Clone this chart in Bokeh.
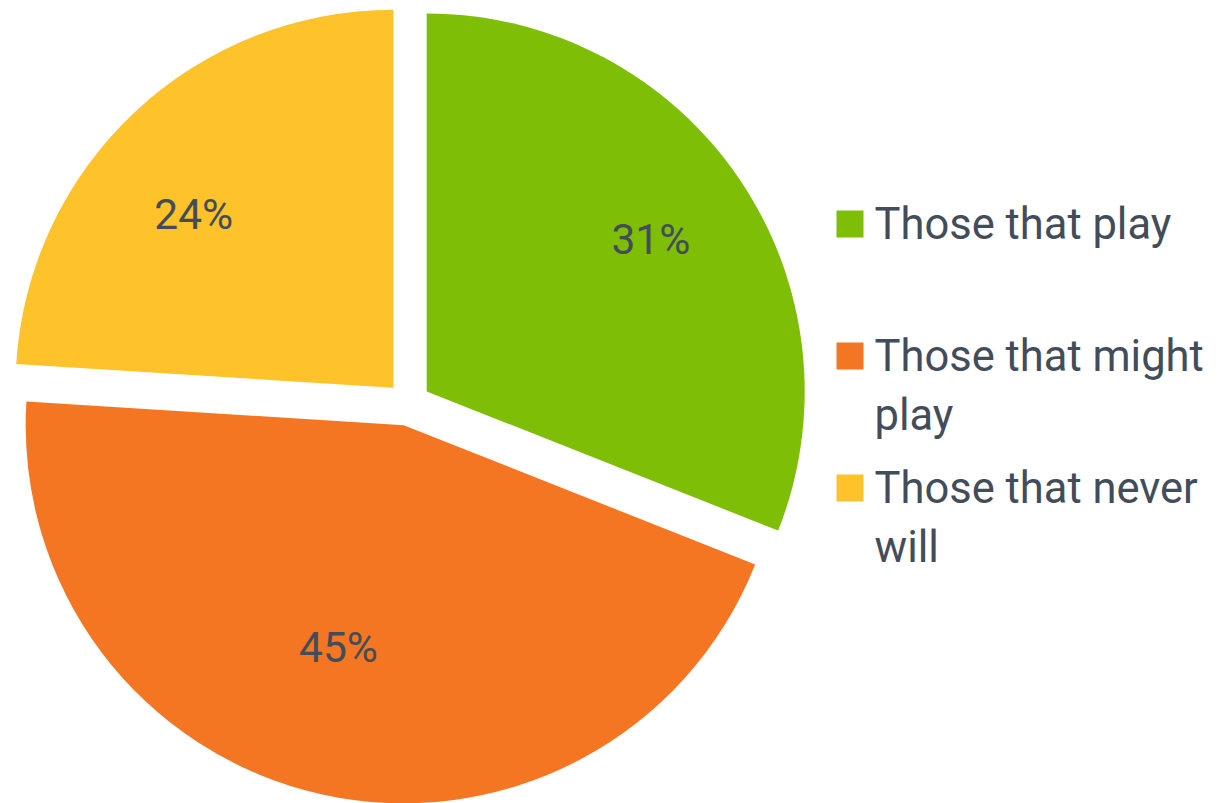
import math
import textwrap
from bokeh.plotting import figure
from bokeh.models import Range1d, ColumnDataSource
from bokeh.core.properties import value
from bokeh.embed import file_html
from bokeh.resources import INLINE

# ---- data ----
categories = ["Those that play", "Those that might play", "Those that never will"]
shares = [31, 45, 24]
labels = ["31%", "45%", "24%"]
colors = ["#7fbe06", "#f47522", "#fec22a"]

# ---- style / layout ----
W, H = 1226, 803
CX, CY = 408.0, H - 403.3      # pie centre (data units == pixels)
R = 378.0                       # radius
EXPLODE = 22.0                  # explosion distance
label_r = [0.717, 0.613, 0.70]  # label distance (fraction of radius)
label_dtheta = [0.0, 3.75, -5.8]
TEXT_COLOR = "#434d59"
FONT = "Roboto"
FS_LABEL = "42.5px"
FS_LEGEND = "43.5px"

p = figure(width=W, height=H, output_backend="svg", toolbar_location=None,
           x_range=Range1d(0, W), y_range=Range1d(0, H),
           x_axis_location=None, y_axis_location=None, min_border=0)
p.outline_line_color = None
p.grid.visible = False
p.background_fill_color = "white"
p.border_fill_color = "white"

total = float(sum(shares))
xs, ys, starts, ends, lx, ly = [], [], [], [], [], []
cum = 0.0
for i, s in enumerate(shares):
    t0 = cum / total * 360.0
    t1 = (cum + s) / total * 360.0
    mid = (t0 + t1) / 2.0
    cum += s
    mr = math.radians(mid)
    ox = CX + EXPLODE * math.sin(mr)
    oy = CY + EXPLODE * math.cos(mr)
    xs.append(ox)
    ys.append(oy)
    starts.append(90.0 - t0)
    ends.append(90.0 - t1)
    lr = math.radians(mid + label_dtheta[i])
    lx.append(ox + label_r[i] * R * math.sin(lr))
    ly.append(oy + label_r[i] * R * math.cos(lr))

src = ColumnDataSource(dict(x=xs, y=ys, start=starts, end=ends, color=colors,
                            lx=lx, ly=ly, label=labels))
p.wedge(x="x", y="y", radius=R, start_angle="start", end_angle="end",
        start_angle_units="deg", end_angle_units="deg", direction="clock",
        fill_color="color", line_color=None, source=src)
p.text(x="lx", y="ly", text="label", source=src, text_align="center",
       text_baseline="middle", text_font=value(FONT), text_font_size=FS_LABEL,
       text_color=TEXT_COLOR)

# ---- legend (drawn manually) ----
SQ_X = 849.5
TXT_X = 874
sq_y, tx, ty, tt = [], [], [], []
for i, name in enumerate(categories):
    c_y = H - (223.5 + 132 * i)
    sq_y.append(c_y)
    for j, line in enumerate(textwrap.wrap(name, 16)):
        tx.append(TXT_X)
        ty.append(c_y - 59 * j)
        tt.append(line)
p.rect(x=[SQ_X] * len(categories), y=sq_y, width=27, height=27,
       fill_color=colors, line_color=None)
p.text(x=tx, y=ty, text=tt, text_align="left", text_baseline="middle",
       text_font=value(FONT), text_font_size=FS_LEGEND, text_color=TEXT_COLOR)

open("out.html", "w").write(file_html(p, INLINE))
